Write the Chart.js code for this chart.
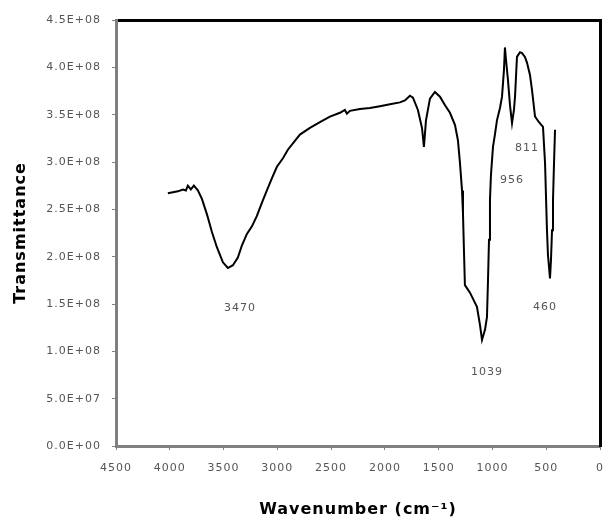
<!DOCTYPE html>
<html lang="en">
<head>
    <meta charset="UTF-8">
    <title>FTIR spectrum</title>
    <script src="https://cdn.jsdelivr.net/npm/chart.js"></script>
    <style>
        body {
            margin: 0;
            background: #ffffff;
        }
    </style>
</head>
<body>
    <canvas id="irChart" width="603" height="525"></canvas>

    <script>
        // spectrum
        const wavenumber = [4018, 3971, 3925, 3878, 3850, 3832, 3804, 3776, 3739, 3701,
            3655, 3608, 3562, 3506, 3460, 3413, 3367, 3329, 3283, 3236,
            3190, 3143, 3097, 3050, 3004, 2948, 2902, 2846, 2790, 2697,
            2604, 2511, 2418, 2372, 2353, 2325, 2232, 2139, 2046, 1953,
            1860, 1814, 1767, 1739, 1693, 1655, 1637, 1618, 1581, 1535,
            1488, 1441, 1395, 1348, 1321, 1302, 1283, 1274, 1265, 1256,
            1209, 1144, 1116, 1097, 1069, 1051, 1042, 1032, 1023, 1014,
            995, 977, 958, 930, 911, 893, 884, 874, 856, 837,
            818, 800, 790, 772, 744, 725, 698, 679, 651, 632,
            604, 567, 530, 511, 493, 484, 465, 456, 446, 437,
            428, 418];
        const transmittance = [2.67e8, 2.68e8, 2.69e8, 2.71e8, 2.70e8, 2.75e8, 2.71e8, 2.75e8, 2.70e8, 2.61e8,
            2.45e8, 2.26e8, 2.10e8, 1.94e8, 1.88e8, 1.91e8, 1.99e8, 2.12e8, 2.24e8, 2.32e8,
            2.43e8, 2.57e8, 2.70e8, 2.83e8, 2.95e8, 3.04e8, 3.13e8, 3.21e8, 3.29e8, 3.36e8,
            3.42e8, 3.48e8, 3.52e8, 3.55e8, 3.51e8, 3.54e8, 3.56e8, 3.57e8, 3.59e8, 3.61e8,
            3.63e8, 3.65e8, 3.70e8, 3.68e8, 3.55e8, 3.36e8, 3.16e8, 3.44e8, 3.67e8, 3.74e8,
            3.69e8, 3.60e8, 3.52e8, 3.39e8, 3.23e8, 2.99e8, 2.70e8, 2.46e8, 2.07e8, 1.70e8,
            1.62e8, 1.47e8, 1.28e8, 1.12e8, 1.23e8, 1.36e8, 1.72e8, 2.18e8, 2.60e8, 2.86e8,
            3.16e8, 3.29e8, 3.44e8, 3.57e8, 3.69e8, 3.97e8, 4.21e8, 4.08e8, 3.87e8, 3.60e8,
            3.41e8, 3.55e8, 3.69e8, 4.11e8, 4.16e8, 4.15e8, 4.11e8, 4.05e8, 3.92e8, 3.76e8,
            3.48e8, 3.42e8, 3.37e8, 2.99e8, 2.28e8, 2.02e8, 1.77e8, 1.96e8, 2.28e8, 2.60e8,
            2.97e8, 3.34e8];

        // peak labels and where they sit (wavenumber, transmittance)
        const peakLabels = ['3470', '1039', '460', '956', '811'];
        const peakLabelX = [3348, 1051, 512, 818, 679];
        const peakLabelY = [1.46e8, 0.78e8, 1.47e8, 2.81e8, 3.15e8];

        function sciLabel(v) {
            if (v === 0) return '0.0E+00';
            const e = Math.floor(Math.log10(v) + 1e-9);
            const m = v / Math.pow(10, e);
            return m.toFixed(1) + 'E+' + String(e).padStart(2, '0');
        }

        const tickFont = { family: "'DejaVu Sans', sans-serif", size: 11 };
        const titleFont = { family: "'DejaVu Sans', sans-serif", size: 16, weight: 'bold' };

        const labelPlugin = {
            id: 'peakLabels',
            beforeUpdate(chart) {
                chart.ctx.letterSpacing = '1px';
            },
            beforeDraw(chart) {
                chart.ctx.letterSpacing = '1px';
            },
            afterDraw(chart) {
                const ctx = chart.ctx;
                const xs = chart.scales.x;
                const ys = chart.scales.y;
                ctx.save();
                ctx.font = "11px 'DejaVu Sans', sans-serif";
                ctx.fillStyle = '#555555';
                ctx.textAlign = 'center';
                ctx.textBaseline = 'middle';
                peakLabels.forEach((txt, i) => {
                    ctx.fillText(txt, xs.getPixelForValue(peakLabelX[i]), ys.getPixelForValue(peakLabelY[i]));
                });
                ctx.restore();
            }
        };

        const points = wavenumber.map((w, i) => ({ x: w, y: transmittance[i] }));

        new Chart(document.getElementById('irChart'), {
            type: 'scatter',
            data: {
                datasets: [{
                    label: 'Transmittance',
                    data: points,
                    showLine: true,
                    borderColor: '#000000',
                    borderWidth: 2,
                    pointRadius: 0,
                    tension: 0
                }]
            },
            options: {
                responsive: false,
                animation: false,
                layout: { padding: { top: 20, right: 3, left: 0, bottom: 0 } },
                plugins: {
                    legend: { display: false },
                    tooltip: { enabled: false }
                },
                scales: {
                    x: {
                        type: 'linear',
                        reverse: true,
                        min: 0,
                        max: 4500,
                        afterFit: s => {
                            s.height = 79;
                            s.paddingLeft = 0;
                            s.paddingRight = 3;
                        },
                        ticks: {
                            stepSize: 500,
                            font: tickFont,
                            color: '#555555',
                            padding: 12,
                            maxRotation: 0,
                            callback: v => String(v)
                        },
                        grid: {
                            drawOnChartArea: false,
                            tickLength: 4,
                            color: '#808080'
                        },
                        border: { color: '#808080', width: 3 },
                        title: {
                            display: true,
                            text: 'Wavenumber (cm⁻¹)',
                            font: titleFont,
                            color: '#000000',
                            padding: { top: 4, bottom: 6 }
                        }
                    },
                    // plain frame lines on top and right
                    xTop: {
                        type: 'linear',
                        position: 'top',
                        reverse: true,
                        min: 0,
                        max: 4500,
                        afterFit: s => {
                            s.height = 0;
                            s.paddingLeft = 0;
                            s.paddingRight = 0;
                        },
                        ticks: { display: false },
                        grid: { drawOnChartArea: false, drawTicks: false },
                        border: { color: '#000000', width: 3 }
                    },
                    y: {
                        min: 0,
                        max: 4.5e8,
                        afterFit: s => { s.width = 116; },
                        ticks: {
                            stepSize: 0.5e8,
                            font: tickFont,
                            color: '#555555',
                            padding: 11,
                            callback: v => sciLabel(v)
                        },
                        grid: {
                            drawOnChartArea: false,
                            tickLength: 4,
                            color: '#808080'
                        },
                        border: { color: '#808080', width: 3 },
                        title: {
                            display: true,
                            text: 'Transmittance',
                            font: titleFont,
                            color: '#000000',
                            padding: { top: 11, bottom: 0 }
                        }
                    },
                    yRight: {
                        position: 'right',
                        min: 0,
                        max: 4.5e8,
                        afterFit: s => {
                            s.width = 0;
                            s.paddingTop = 0;
                            s.paddingBottom = 0;
                        },
                        ticks: { display: false },
                        grid: { drawOnChartArea: false, drawTicks: false },
                        border: { color: '#000000', width: 3 }
                    }
                }
            },
            plugins: [labelPlugin]
        });
    </script>
</body>
</html>
